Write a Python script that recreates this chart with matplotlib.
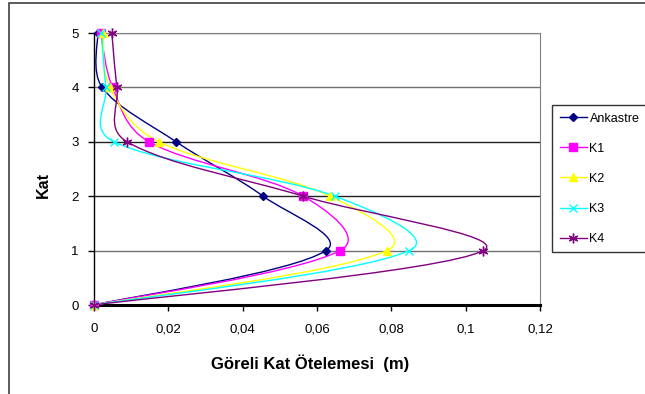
import numpy as np
import matplotlib
matplotlib.use('Agg')
import matplotlib.pyplot as plt
from matplotlib.path import Path
from matplotlib.patches import PathPatch, Rectangle
from matplotlib.lines import Line2D

plt.rcParams['font.family'] = ['Liberation Sans', 'DejaVu Sans']

# Datos
katlar = [0, 1, 2, 3, 4, 5]
ankastre = [0, 0.0624, 0.0455, 0.0221, 0.0022, 0.0010]
k1 = [0, 0.0662, 0.0563, 0.0148, 0.0050, 0.0018]
k2 = [0, 0.0788, 0.0635, 0.0175, 0.0043, 0.0024]
k3 = [0, 0.0848, 0.0648, 0.0054, 0.0032, 0.0020]
k4 = [0, 0.1047, 0.0563, 0.0089, 0.0062, 0.0048]
etiquetas = ['Ankastre', 'K1', 'K2', 'K3', 'K4']
x_ticks = [0, 0.02, 0.04, 0.06, 0.08, 0.1, 0.12]
x_labels = ['0', '0,02', '0,04', '0,06', '0,08', '0,1', '0,12']

renkler = ['#000080', '#FF00FF', '#FFFF00', '#00FFFF', '#800080']
markerler = ['D', 's', '^', 'x', (6, 2, 0)]
boyutlar = [4.5, 5.5, 6, 6, 7]


def suave(ax, x, y):
    # curva suavizada tipo Excel, calculada en pixeles y devuelta en datos
    tr = ax.transData
    p = tr.transform(np.column_stack([x, y]))
    n = len(p)
    verts = [p[0]]
    codes = [Path.MOVETO]
    for i in range(n - 1):
        p0 = p[i - 1] if i > 0 else p[i]
        p1 = p[i]
        p2 = p[i + 1]
        p3 = p[i + 2] if i + 2 < n else p[i + 1]
        d01 = np.hypot(*(p1 - p0))
        d12 = np.hypot(*(p2 - p1))
        d23 = np.hypot(*(p3 - p2))
        f1 = d12 / (d01 + d12) / 3 if d01 > 0 else 1 / 6
        f2 = d12 / (d12 + d23) / 3 if d23 > 0 else 1 / 6
        f1 = 0.5 * f1 + 0.5 / 6
        f2 = 0.5 * f2 + 0.5 / 6
        c1 = p1 + (p2 - p0) * f1
        c2 = p2 - (p3 - p1) * f2
        verts += [c1, c2, p2]
        codes += [Path.CURVE4] * 3
    verts = tr.inverted().transform(np.array(verts))
    return Path(verts, codes)


fig = plt.figure(figsize=(6.45, 3.94), dpi=100)
fig.patches.append(Rectangle((9, -20), 700, 411, transform=None, fill=False,
                             edgecolor='#404040', lw=1.2))
ax = fig.add_axes([94 / 645, 1 - 305 / 394, 446 / 645, 272 / 394])
ax.set_xlim(0, 0.12)
ax.set_ylim(0, 5)

for yy in katlar[1:]:
    ax.axhline(yy, color='#202020' if yy in (2, 3) else '#707070', lw=1, zorder=1)

series = [ankastre, k1, k2, k3, k4]
handles = []
for s, c, m, ms, lab in zip(series, renkler, markerler, boyutlar, etiquetas):
    ax.add_patch(PathPatch(suave(ax, s, katlar), fill=False, edgecolor=c, lw=1, zorder=3))
    ax.plot(s, katlar, ls='none', marker=m, color=c, ms=ms, mec=c, mew=1, zorder=4,
            clip_on=False)
    handles.append(Line2D([], [], color=c, lw=1, marker=m, ms=ms, mec=c, label=lab))

ax.set_xticks(x_ticks)
ax.set_xticklabels(x_labels)
ax.set_yticks(katlar)
ax.tick_params(labelsize=9.5, length=4, width=1, color='black')
ax.tick_params(axis='x', pad=9)
ax.tick_params(axis='y', pad=7)
ax.spines['bottom'].set_linewidth(2.2)
ax.spines['left'].set_linewidth(1)
ax.spines['right'].set_color('#808080')
ax.spines['top'].set_color('#808080')

ax.set_xlabel('Göreli Kat Ötelemesi  (m)', fontsize=12, fontweight='bold')
ax.xaxis.set_label_coords((310 - 94) / 446, -(354 - 305) / 272)
ax.set_ylabel('Kat', fontsize=11.5, fontweight='bold')
ax.yaxis.set_label_coords((51 - 94) / 446, (305 - 185) / 272)

fig.legend(handles=handles, loc='upper left', bbox_to_anchor=(552 / 645, 1 - 105 / 394),
           frameon=True, fancybox=False, edgecolor='black', fontsize=9,
           labelspacing=1.45, handlelength=2.2, handletextpad=0.2,
           borderpad=0.6, borderaxespad=0)

fig.savefig('out.png', dpi=100)
